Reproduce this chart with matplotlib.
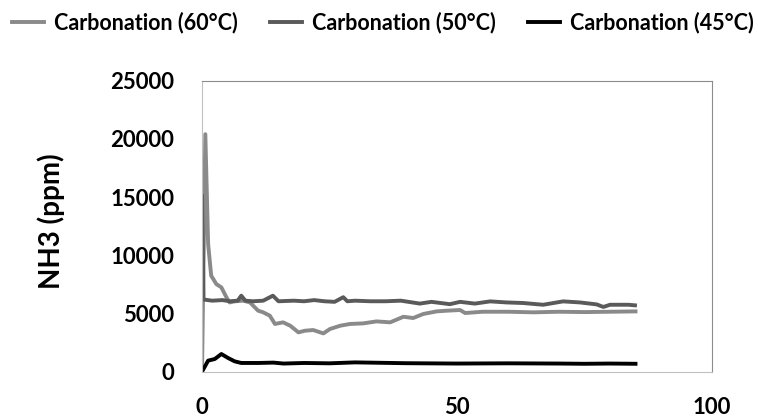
import matplotlib
matplotlib.use("Agg")
import matplotlib.pyplot as plt

plt.rcParams['font.family'] = ['Lato', 'DejaVu Sans']
plt.rcParams['font.weight'] = 'bold'

# Carbonation (60°C)
x60 = [0, 0.65, 1.2, 1.8, 2.8, 3.8, 4.8, 5.4, 6.5, 8.1, 9.4, 11.0, 12.0, 13.3, 14.3,
       15.9, 17.3, 18.9, 20.2, 21.8, 23.8, 25.1, 27.1, 29.0, 31.6, 34.2, 36.9, 39.5,
       41.4, 43.4, 46.0, 48.0, 50.6, 51.6, 55, 60, 65, 70, 75, 80, 85]
y60 = [0, 20400, 10970, 8250, 7530, 7240, 6380, 5950, 6050, 6100, 5950, 5240, 5100,
       4810, 4100, 4240, 3950, 3380, 3520, 3580, 3290, 3670, 3950, 4100, 4150, 4320,
       4240, 4720, 4610, 4960, 5180, 5240, 5300, 5040, 5150, 5150, 5100, 5150, 5120,
       5150, 5180]

# Carbonation (50°C)
x50 = [0, 0.3, 2, 4, 5.5, 7, 7.7, 8.5, 10, 12, 13.9, 15, 18, 20, 22, 24, 26, 27.7,
       28.5, 30, 33, 36, 39, 42.7, 45, 48.6, 50.6, 53.5, 56.5, 59.7, 63, 66.9, 70.8,
       74.1, 77.4, 78.7, 80, 83.6, 84.9]
y50 = [15100, 6200, 6100, 6150, 6050, 6100, 6530, 6100, 6050, 6100, 6530, 6050, 6100,
       6050, 6150, 6050, 6000, 6400, 6050, 6100, 6050, 6050, 6100, 5850, 6000, 5800,
       6000, 5850, 6040, 5950, 5900, 5750, 6040, 5950, 5780, 5560, 5750, 5750, 5700]

# Carbonation (45°C)
x45 = [0, 1.2, 2.5, 3.8, 5.1, 6.4, 7.7, 11, 14, 16, 20, 25, 30, 40, 50, 60, 70, 75, 80, 85]
y45 = [0, 950, 1090, 1520, 1180, 890, 750, 750, 780, 700, 750, 720, 800, 730, 700,
       720, 700, 680, 700, 680]

xticks = [0, 50, 100]
yticks = [0, 5000, 10000, 15000, 20000, 25000]

fig = plt.figure(figsize=(7.58, 4.2), dpi=100)
ax = fig.add_axes([0.2665, 0.115, 0.6728, 0.693])

ax.plot(x60, y60, color='#8a8a8a', lw=2.8, label='Carbonation (60°C)')
ax.plot(x50, y50, color='#5a5a5a', lw=2.8, label='Carbonation (50°C)')
ax.plot(x45, y45, color='black', lw=2.8, label='Carbonation (45°C)')

ax.set_xlim(0, 100)
ax.set_ylim(0, 25000)
ax.set_xticks(xticks)
ax.set_yticks(yticks)
ax.tick_params(length=0, labelsize=16)
ax.tick_params(axis='y', pad=20)
ax.tick_params(axis='x', pad=18)
for lab in ax.get_xticklabels() + ax.get_yticklabels():
    lab.set_fontweight('bold')
ax.set_ylabel('NH3 (ppm)', fontsize=20, fontweight='bold')
ax.yaxis.set_label_coords(-0.296, 0.518)
ax.yaxis.label.set_va('center')

ax.spines['left'].set_color('#c0c0c0')
ax.spines['bottom'].set_color('#c0c0c0')
ax.spines['top'].set_color('#8c8c8c')
ax.spines['right'].set_color('#8c8c8c')

fig.legend(loc='upper left', bbox_to_anchor=(0.0, 1.0), ncol=3, frameon=False,
           prop={'size': 15.5, 'weight': 'bold'}, handlelength=1.5, handletextpad=0.45,
           columnspacing=1.5, borderaxespad=0.2, borderpad=0.35)

fig.savefig('out.png', dpi=100)
